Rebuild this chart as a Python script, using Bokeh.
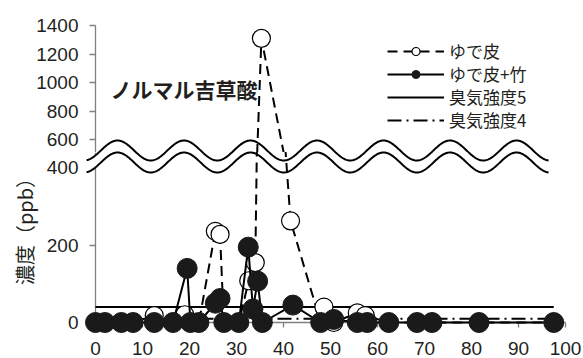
import numpy as np
from bokeh.plotting import figure
from bokeh.layouts import column
from bokeh.models import Range1d, FixedTicker, Legend, LegendItem, Label
from bokeh.embed import file_html
from bokeh.resources import INLINE

# ---- data ----
# ゆで皮 (open circles, dashed line)
peel_x = [0, 2, 5.5, 8, 12.5, 16.5, 19, 22, 25.5, 26.5, 27.3, 30.5, 32.6, 34, 35.3,
          41.5, 47.9, 48.6, 50.7, 55.7, 57.4, 62.4, 68.4, 71.6, 81.6, 97.5]
peel_y = [0, 0, 0, 0, 18, 0, 20, 0, 236, 228, 0, 0, 108, 155, 1310,
          263, 0, 40, 0, 25, 18, 0, 0, 0, 0, 0]
# ゆで皮+竹 (filled circles, solid line)
bamboo_x = [0, 2, 5.5, 8, 12.5, 16.5, 19.5, 20.2, 22, 25.5, 26.5, 27.3, 30.5, 32.5,
            33.5, 34.5, 35.5, 42, 47.9, 50.7, 55.7, 57.8, 62.4, 68.4, 71.6, 81.6, 97.5]
bamboo_y = [0, 0, 0, 0, 0, 0, 140, 0, 0, 50, 62, 0, 0, 195,
            35, 107, 0, 45, 0, 8, 0, 0, 0, 0, 0, 0, 0]
# 臭気強度 reference levels
odor5_level = 40
odor4_level = 10
odor_x = [0, 97.5]

x_ticks = [0, 10, 20, 30, 40, 50, 60, 70, 80, 90, 100]
low_ticks = [0, 200, 400]
high_ticks = [600, 800, 1000, 1200, 1400]

TEXT = "#231f20"
AXIS = "#808080"
CJK = "Noto Sans CJK JP"
NUM = "Liberation Sans"

# ---- layout geometry (pixels) ----
W = 582
H = 357
SPLIT = 152          # page y where upper panel ends and lower begins
TOP_PAGE = 25        # page y of 1400
ZERO_PAGE = 322      # page y of 0
UP_PX = 0.143        # px per ppb, upper panel
LO_PX = 0.3865       # px per ppb, lower panel
X_PX = 4.7           # px per x unit
X0_PAGE = 95         # page x of x=0

x_range = Range1d(-X0_PAGE / X_PX, (W - X0_PAGE) / X_PX)
up_range = Range1d(1400 - (SPLIT - TOP_PAGE) / UP_PX, 1400 + TOP_PAGE / UP_PX)
lo_range = Range1d(-(H - ZERO_PAGE) / LO_PX, (ZERO_PAGE - SPLIT) / LO_PX)


def base(height, y_range, ticks, bounds):
    p = figure(width=W, height=height, x_range=x_range, y_range=y_range,
               output_backend="svg", toolbar_location=None,
               min_border_left=0, min_border_right=0,
               min_border_top=0, min_border_bottom=0)
    p.grid.visible = False
    p.outline_line_color = None
    p.background_fill_color = "white"
    p.border_fill_color = "white"
    ax = p.yaxis[0]
    ax.fixed_location = 0
    ax.bounds = bounds
    ax.ticker = FixedTicker(ticks=ticks)
    ax.axis_line_color = AXIS
    ax.axis_line_width = 1.3
    ax.major_tick_line_color = AXIS
    ax.major_tick_line_width = 1.3
    ax.major_tick_out = 6
    ax.major_tick_in = 0
    ax.minor_tick_line_color = None
    ax.major_label_text_font = NUM
    ax.major_label_text_font_size = "19px"
    ax.major_label_text_color = TEXT
    ax.major_label_standoff = 11
    return p


def draw(p):
    lv = "overlay"
    r5 = p.line(odor_x, [odor5_level, odor5_level], line_color="black",
                line_width=2, level=lv)
    r4 = p.line(odor_x, [odor4_level, odor4_level], line_color="black",
                line_width=2, line_dash="14 5 2 5", level=lv)
    pl = p.line(peel_x, peel_y, line_color="black", line_width=2,
                line_dash="10 6", level=lv)
    ps = p.scatter(peel_x, peel_y, marker="circle", size=18, fill_color="white",
                   line_color="black", line_width=1.2, level=lv)
    bl = p.line(bamboo_x, bamboo_y, line_color="black", line_width=2, level=lv)
    bs = p.scatter(bamboo_x, bamboo_y, marker="circle", size=20, fill_color="#1a1a1a",
                   line_color="#1a1a1a", line_width=1, level=lv)
    return r5, r4, pl, ps, bl, bs


# axis-break wave (decoration), defined in page pixels
wx = np.linspace(-1.9, 96.4, 600)
c = np.cos(2 * np.pi * (wx - 4.68) / 14.15)
wave_top_px = 150 - 10 * c
wave_bot_px = 162 - 10 * c


def add_wave(p, to_data):
    yt = to_data(wave_top_px)
    yb = to_data(wave_bot_px)
    p.varea(x=wx, y1=yb, y2=yt, fill_color="white", level="annotation")
    p.line(wx, yt, line_color="black", line_width=2, level="annotation")
    p.line(wx, yb, line_color="black", line_width=2, level="annotation")


# ---- upper panel (600 - 1400) ----
p_top = base(SPLIT, up_range, high_ticks, (up_range.start, 1400))
p_top.xaxis.visible = False
add_wave(p_top, lambda py: 1400 - (py - TOP_PAGE) / UP_PX)
r5, r4, pl, ps, bl, bs = draw(p_top)

rows = [("ゆで皮", [pl, ps], 50), ("ゆで皮+竹", [bl, bs], 73),
        ("臭気強度5", [r5], 96), ("臭気強度4", [r4], 119)]
for lab, rends, cy in rows:
    lg = Legend(items=[LegendItem(label=lab, renderers=rends)],
                location=(387, SPLIT - (cy + 13)))
    lg.border_line_color = None
    lg.background_fill_alpha = 0
    lg.padding = 0
    lg.margin = 0
    lg.spacing = 0
    lg.glyph_width = 57
    lg.glyph_height = 20
    lg.label_height = 20
    lg.label_standoff = 5
    lg.label_text_font = CJK
    lg.label_text_font_size = "17px"
    lg.label_text_color = TEXT
    p_top.add_layout(lg)

p_top.add_layout(Label(x=3.2, y=959, text="ノルマル吉草酸", text_font=CJK,
                       text_font_size="21px", text_font_style="bold",
                       text_baseline="middle", text_color=TEXT))

# ---- lower panel (0 - 400) ----
p_bot = base(H - SPLIT, lo_range, low_ticks, (0, lo_range.end))
add_wave(p_bot, lambda py: (ZERO_PAGE - py) / LO_PX)
xa = p_bot.xaxis[0]
xa.fixed_location = 0
xa.bounds = (0, 100)
xa.ticker = FixedTicker(ticks=x_ticks)
xa.axis_line_color = AXIS
xa.axis_line_width = 1.3
xa.major_tick_line_color = AXIS
xa.major_tick_line_width = 1.3
xa.major_tick_out = 5
xa.major_tick_in = 0
xa.minor_tick_line_color = None
xa.major_label_text_font = NUM
xa.major_label_text_font_size = "19px"
xa.major_label_text_color = TEXT
xa.major_label_standoff = 14

draw(p_bot)

p_bot.add_layout(Label(x=-15.1, y=248.4, text="濃度（ppb）", angle=np.pi / 2,
                       text_align="center", text_baseline="middle",
                       text_font=CJK, text_font_size="20px", text_color=TEXT))

layout = column(p_top, p_bot, spacing=0)
open("out.html", "w").write(file_html(layout, INLINE))
